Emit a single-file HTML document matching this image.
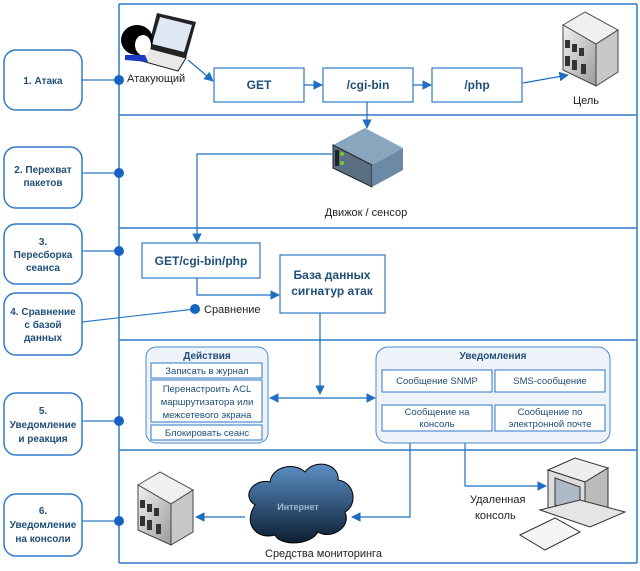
<!DOCTYPE html>
<html><head><meta charset="utf-8"><style>
body{margin:0;background:#fff}
svg text{font-family:"Liberation Sans","DejaVu Sans",sans-serif}
.b{font-weight:bold;fill:#1f4e79;font-size:10px}
.n{fill:#222;font-size:11px}
.s{fill:#1f4e79;font-size:9.5px}
</style></head><body>
<svg width="640" height="566" viewBox="0 0 640 566" xmlns="http://www.w3.org/2000/svg">
<defs>
<marker id="a" viewBox="0 0 10 10" refX="9" refY="5" markerWidth="8" markerHeight="8" orient="auto-start-reverse"><path d="M0,0L10,5L0,10z" fill="#1f6fc0"/></marker>
<linearGradient id="cl" x1="0" y1="0" x2="0" y2="1"><stop offset="0" stop-color="#5b8fc4"/><stop offset="1" stop-color="#0d1e33"/></linearGradient>
<linearGradient id="sv" x1="0" y1="0" x2="1" y2="1"><stop offset="0" stop-color="#f2f2f2"/><stop offset="1" stop-color="#9a9a9a"/></linearGradient>
</defs>
<g stroke="#2f7ac8" stroke-width="1.5" fill="none">
<line x1="119" y1="4" x2="119" y2="563"/>
<line x1="119" y1="4" x2="637" y2="4"/>
<line x1="637" y1="4" x2="637" y2="563"/>
<line x1="119" y1="115" x2="637" y2="115"/>
<line x1="119" y1="228" x2="637" y2="228"/>
<line x1="119" y1="340" x2="637" y2="340"/>
<line x1="119" y1="450" x2="637" y2="450"/>
<line x1="119" y1="563" x2="637" y2="563"/>
<rect x="4" y="50" width="78" height="60" rx="12"/>
<rect x="4" y="147" width="78" height="61" rx="12"/>
<rect x="4" y="224" width="78" height="60" rx="12"/>
<rect x="4" y="293" width="78" height="62" rx="12"/>
<rect x="4" y="393" width="78" height="62" rx="12"/>
<rect x="4" y="494" width="78" height="62" rx="12"/>
</g>
<g stroke="#2f7ac8" stroke-width="1.2">
<line x1="82" y1="80" x2="119" y2="80"/><line x1="82" y1="173" x2="119" y2="173"/>
<line x1="82" y1="251" x2="119" y2="251"/><line x1="82" y1="322" x2="195" y2="309"/>
<line x1="82" y1="421" x2="119" y2="421"/><line x1="82" y1="521" x2="119" y2="521"/>
</g>
<g fill="#1565c0"><circle cx="119" cy="80" r="5"/><circle cx="119" cy="173" r="5"/><circle cx="119" cy="251" r="5"/><circle cx="195" cy="309" r="5"/><circle cx="119" cy="421" r="5"/><circle cx="119" cy="521" r="5"/></g>
<g class="b" text-anchor="middle">
<text x="43" y="84">1. Атака</text>
<text x="43" y="173">2. Перехват</text><text x="43" y="186">пакетов</text>
<text x="43" y="245">3.</text><text x="43" y="258">Пересборка</text><text x="43" y="271">сеанса</text>
<text x="43" y="315">4. Сравнение</text><text x="43" y="328">с базой</text><text x="43" y="341">данных</text>
<text x="43" y="414">5.</text><text x="43" y="428">Уведомление</text><text x="43" y="442">и реакция</text>
<text x="43" y="514">6.</text><text x="43" y="528">Уведомление</text><text x="43" y="542">на консоли</text>
</g>
<!-- attacker -->
<g>
<polygon points="157,13 196,22 186,58 148,48" fill="#222"/><polygon points="160,17 192,25 184,52 152,44" fill="#dfe9f5"/>
<polygon points="148,48 186,58 178,71 138,60" fill="#e8e8e8" stroke="#222"/>
<ellipse cx="137" cy="40" rx="16" ry="15" fill="#000"/><ellipse cx="143" cy="45" rx="8" ry="10" fill="#fff"/>
<polygon points="125,55 145,55 148,62 125,60" fill="#1a3ac0"/>
</g>
<text class="n" x="127" y="82">Атакующий</text>
<g stroke="#2f7ac8" stroke-width="1.2" fill="#fff">
<rect x="214" y="68" width="90" height="34"/><rect x="323" y="68" width="90" height="34"/><rect x="432" y="68" width="90" height="34"/>
<rect x="142" y="243" width="118" height="35"/><rect x="280" y="255" width="105" height="58"/>
</g>
<g stroke="#1f6fc0" stroke-width="1.2" fill="none" marker-end="url(#a)">
<line x1="188" y1="60" x2="213" y2="81"/>
<line x1="304" y1="85" x2="322" y2="85"/><line x1="413" y1="85" x2="431" y2="85"/>
<line x1="523" y1="83" x2="568" y2="75"/>
<line x1="367" y1="102" x2="367" y2="128"/>
<polyline points="332,154 197,154 197,242"/>
<polyline points="197,278 197,295 279,295"/>
<line x1="320" y1="313" x2="320" y2="394"/>
<line x1="320" y1="398" x2="270" y2="398"/><line x1="320" y1="398" x2="375" y2="398"/>
<polyline points="410,432 410,517 352,517"/>
<line x1="245" y1="517" x2="196" y2="517"/>
<polyline points="465,432 465,486 546,486"/>
</g>
<g class="b" text-anchor="middle" style="font-size:12px">
<text x="259" y="89">GET</text><text x="368" y="89">/cgi-bin</text><text x="477" y="89">/php</text>
<text x="201" y="265">GET/cgi-bin/php</text><text x="332" y="279">База данных</text><text x="332" y="295">сигнатур атак</text>
</g>
<!-- target server -->
<g><polygon points="563,25 585,12 618,30 596,44" fill="#f0f0f0" stroke="#555"/><polygon points="563,25 596,44 596,86 563,70" fill="url(#sv)" stroke="#444"/><polygon points="596,44 618,30 618,72 596,86" fill="#c8c8c8" stroke="#444"/>
<g fill="#333"><rect x="565" y="40" width="5" height="8"/><rect x="572" y="44" width="5" height="8"/><rect x="579" y="48" width="5" height="8"/><rect x="565" y="56" width="5" height="10"/><rect x="572" y="60" width="5" height="10"/><rect x="581" y="64" width="5" height="10"/></g></g>
<text class="n" x="586" y="104" text-anchor="middle">Цель</text>
<!-- sensor -->
<g><polygon points="333,145 365,128 403,148 372,165" fill="#8aa6bf"/><polygon points="333,145 372,165 372,187 333,168" fill="#5a6f82" stroke="#222"/><polygon points="372,165 403,148 403,170 372,187" fill="#6c8aa5"/><rect x="335" y="150" width="4" height="16" fill="#222"/><circle cx="342" cy="154" r="2" fill="#7c3"/><circle cx="342" cy="163" r="2" fill="#7c3"/></g>
<text class="n" x="366" y="216" text-anchor="middle">Движок / сенсор</text>
<text class="n" x="204" y="313">Сравнение</text>
<!-- actions -->
<g stroke="#4a8ad0" stroke-width="1" fill="#eef3fa"><rect x="146" y="347" width="122" height="96" rx="10"/><rect x="376" y="347" width="234" height="96" rx="12"/></g>
<g stroke="#2f7ac8" stroke-width="1" fill="#fff">
<rect x="151" y="363" width="111" height="15"/><rect x="151" y="380" width="111" height="42"/><rect x="151" y="425" width="111" height="15"/>
<rect x="382" y="370" width="110" height="22"/><rect x="495" y="370" width="110" height="22"/>
<rect x="382" y="405" width="110" height="26"/><rect x="495" y="405" width="110" height="26"/>
</g>
<g class="s" text-anchor="middle">
<text class="b" x="207" y="359">Действия</text>
<text x="207" y="374">Записать в журнал</text>
<text x="207" y="392">Перенастроить ACL</text><text x="207" y="405">маршрутизатора или</text><text x="207" y="418">межсетевого экрана</text>
<text x="207" y="436">Блокировать сеанс</text>
<text class="b" x="493" y="359">Уведомления</text>
<text x="437" y="384">Сообщение SNMP</text><text x="550" y="384">SMS-сообщение</text>
<text x="437" y="415">Сообщение на</text><text x="437" y="427">консоль</text>
<text x="550" y="415">Сообщение по</text><text x="550" y="427">электронной почте</text>
</g>
<!-- monitoring server -->
<g><polygon points="138,485 160,472 193,490 171,504" fill="#f0f0f0" stroke="#555"/><polygon points="138,485 171,504 171,545 138,530" fill="url(#sv)" stroke="#444"/><polygon points="171,504 193,490 193,532 171,545" fill="#c8c8c8" stroke="#444"/>
<g fill="#333"><rect x="140" y="500" width="5" height="8"/><rect x="147" y="504" width="5" height="8"/><rect x="154" y="508" width="5" height="8"/><rect x="140" y="516" width="5" height="10"/><rect x="147" y="520" width="5" height="10"/><rect x="156" y="524" width="5" height="10"/></g></g>
<text class="n" x="265" y="557">Средства мониторинга</text>
<!-- cloud -->
<path d="M255,505 C240,495 255,478 270,482 C272,466 295,462 305,472 C315,458 340,464 338,480 C355,482 358,505 345,512 C352,528 330,540 318,532 C310,546 280,546 275,535 C258,540 242,525 255,505Z" fill="url(#cl)" stroke="#000"/>
<text x="298" y="510" text-anchor="middle" style="font-size:9px;font-weight:bold;fill:#9fb8d4">Интернет</text>
<!-- computer -->
<g><polygon points="548,470 575,458 608,468 585,482" fill="#eee" stroke="#333"/><polygon points="548,470 585,482 585,525 548,512" fill="#ddd" stroke="#333"/><polygon points="555,478 580,487 580,514 555,505" fill="#aeb9c6" stroke="#333"/><polygon points="585,482 608,468 608,510 585,525" fill="#bbb" stroke="#333"/>
<polygon points="540,510 590,527 625,512 580,500" fill="#e5e5e5" stroke="#333"/>
<polygon points="520,535 555,518 580,532 545,550" fill="#f5f5f5" stroke="#333"/></g>
<text class="n" x="470" y="503">Удаленная</text><text class="n" x="475" y="519">консоль</text>
</svg>
</body></html>
